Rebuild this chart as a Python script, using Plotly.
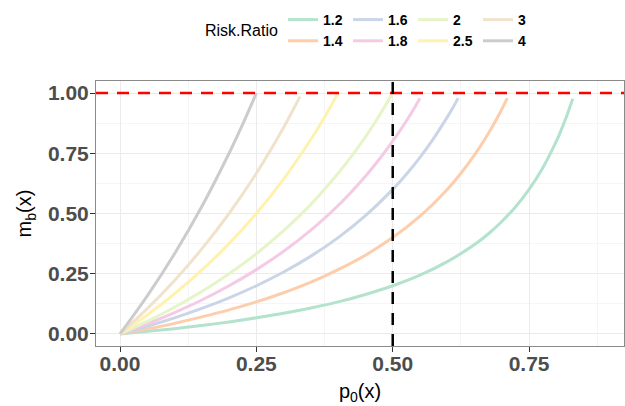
import plotly.graph_objects as go

# ---- data ----
risk_ratios = ["1.2", "1.4", "1.6", "1.8", "2", "2.5", "3", "4"]
colors = ["#B3E2CD", "#FDCDAC", "#CBD5E8", "#F4CAE4", "#E6F5C9", "#FFF2AE", "#F1E2CC", "#CCCCCC"]

p0_rr12 = [0, 0.05, 0.10, 0.15, 0.20, 0.25, 0.30, 0.35, 0.40, 0.45, 0.50, 0.55, 0.60, 0.65, 0.675, 0.70, 0.725, 0.75, 0.775, 0.80, 0.81, 0.82, 0.83]
mb_rr12 = [0, 0.011, 0.022, 0.035, 0.050, 0.067, 0.086, 0.108, 0.133, 0.164, 0.200, 0.244, 0.300, 0.371, 0.415, 0.467, 0.527, 0.600, 0.689, 0.800, 0.853, 0.911, 0.976]

p0_rr14 = [0, 0.05, 0.10, 0.15, 0.20, 0.25, 0.30, 0.35, 0.40, 0.45, 0.50, 0.55, 0.60, 0.625, 0.65, 0.675, 0.69, 0.70, 0.71]
mb_rr14 = [0, 0.021, 0.044, 0.071, 0.100, 0.133, 0.171, 0.215, 0.267, 0.327, 0.400, 0.489, 0.600, 0.667, 0.743, 0.831, 0.890, 0.933, 0.979]

p0_rr16 = [0, 0.05, 0.10, 0.15, 0.20, 0.25, 0.30, 0.35, 0.40, 0.45, 0.50, 0.525, 0.55, 0.575, 0.60, 0.61, 0.62]
mb_rr16 = [0, 0.032, 0.067, 0.106, 0.150, 0.200, 0.257, 0.323, 0.400, 0.491, 0.600, 0.663, 0.733, 0.812, 0.900, 0.938, 0.979]

p0_rr18 = [0, 0.05, 0.10, 0.15, 0.20, 0.25, 0.30, 0.35, 0.40, 0.45, 0.475, 0.50, 0.525, 0.54, 0.55]
mb_rr18 = [0, 0.042, 0.089, 0.141, 0.200, 0.267, 0.343, 0.431, 0.533, 0.655, 0.724, 0.800, 0.884, 0.939, 0.978]

p0_rr2 = [0, 0.05, 0.10, 0.15, 0.20, 0.25, 0.30, 0.35, 0.40, 0.425, 0.45, 0.475, 0.50]
mb_rr2 = [0, 0.053, 0.111, 0.176, 0.250, 0.333, 0.429, 0.538, 0.667, 0.739, 0.818, 0.905, 1.000]

p0_rr25 = [0, 0.05, 0.10, 0.15, 0.20, 0.25, 0.30, 0.35, 0.375, 0.40]
mb_rr25 = [0, 0.079, 0.167, 0.265, 0.375, 0.500, 0.643, 0.808, 0.900, 1.000]

p0_rr3 = [0, 0.05, 0.10, 0.15, 0.20, 0.25, 0.30, 0.315, 0.33]
mb_rr3 = [0, 0.105, 0.222, 0.353, 0.500, 0.667, 0.857, 0.920, 0.985]

p0_rr4 = [0, 0.05, 0.10, 0.15, 0.20, 0.225, 0.25]
mb_rr4 = [0, 0.158, 0.333, 0.529, 0.750, 0.871, 1.000]

p0_series = [p0_rr12, p0_rr14, p0_rr16, p0_rr18, p0_rr2, p0_rr25, p0_rr3, p0_rr4]
mb_series = [mb_rr12, mb_rr14, mb_rr16, mb_rr18, mb_rr2, mb_rr25, mb_rr3, mb_rr4]
legend_groups = ["g1", "g1", "g2", "g2", "g3", "g3", "g4", "g4"]
legend_title = "Risk.Ratio"

hline_y = 1.0
vline_x = 0.5

x_ticks = [0, 0.25, 0.5, 0.75]
x_tick_text = ["0.00", "0.25", "0.50", "0.75"]
y_ticks = [0, 0.25, 0.5, 0.75, 1.0]
y_tick_text = ["0.00", "0.25", "0.50", "0.75", "1.00"]
minor_ticks = [0.125, 0.375, 0.625, 0.875]

FONT = "Liberation Sans, Arial, Helvetica, sans-serif"

fig = go.Figure()

for rr, col, xs, ys, grp in zip(risk_ratios, colors, p0_series, mb_series, legend_groups):
    fig.add_trace(go.Scatter(
        x=xs, y=ys, mode="lines", name=rr,
        line=dict(color=col, width=3, shape="spline", smoothing=1),
        legendgroup=grp,
    ))

fig.add_hline(y=hline_y, line=dict(color="#FF0000", width=2.5, dash="12px,9px"), layer="above")
fig.add_vline(x=vline_x, line=dict(color="#000000", width=2.5, dash="12px,9px"), layer="above")

axis_common = dict(
    showgrid=True, gridcolor="#EBEBEB", gridwidth=1,
    minor=dict(showgrid=True, gridcolor="#F5F5F5", gridwidth=0.6, tickvals=minor_ticks),
    zeroline=False,
    showline=True, linecolor="#8A8A8A", linewidth=1, mirror=True,
    ticks="outside", ticklen=5, tickcolor="#333333", tickwidth=1,
    tickfont=dict(family=FONT, size=21, color="#4D4D4D", weight="bold"),
)

fig.update_xaxes(
    range=[-0.044, 0.924], tickvals=x_ticks, ticktext=x_tick_text,
    ticklabelstandoff=-6,
    title=dict(text="p<sub>0</sub>(x)", font=dict(family=FONT, size=20, color="#000000"), standoff=9),
    **axis_common,
)
fig.update_yaxes(
    range=[-0.05, 1.05], tickvals=y_ticks, ticktext=y_tick_text,
    ticklabelstandoff=-3,
    title=dict(text="m<sub>b</sub>(x)", font=dict(family=FONT, size=20, color="#000000"), standoff=10),
    **axis_common,
)

fig.add_annotation(
    text=legend_title, xref="paper", yref="paper",
    x=(280 - 96) / 528, xanchor="right", y=1 + (81 - 30.7) / 265, yanchor="middle",
    showarrow=False, font=dict(family=FONT, size=16, color="#000000"),
)

fig.update_layout(
    width=625, height=406,
    margin=dict(l=96, r=1, t=81, b=60, autoexpand=False),
    paper_bgcolor="white", plot_bgcolor="white",
    font=dict(family=FONT),
    showlegend=True,
    legend=dict(
        orientation="h", traceorder="grouped",
        x=(283 - 96) / 528, xanchor="left", y=1 + (81 - 4) / 265, yanchor="top",
        entrywidth=20, entrywidthmode="pixels",
        bgcolor="rgba(0,0,0,0)", borderwidth=0,
        font=dict(family=FONT, size=14, color="#000000", weight="bold"),
        tracegroupgap=0,
    ),
)

fig.write_html("out.html", config={"displayModeBar": False},
               post_script="document.body.style.margin='0';")
